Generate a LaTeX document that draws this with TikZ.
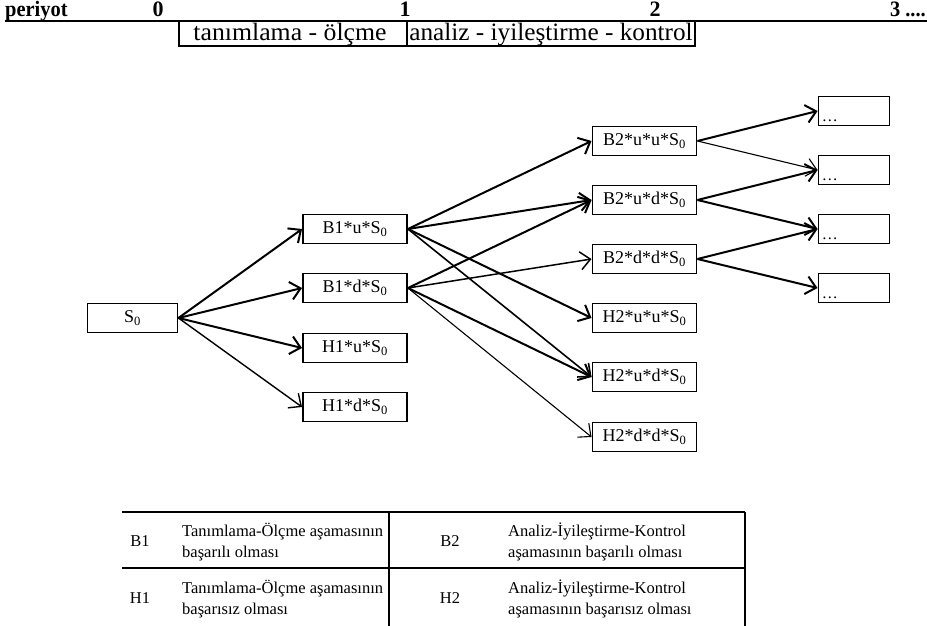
\documentclass[tikz,border=0pt]{standalone}
\usepackage{fontspec}
\setmainfont{Liberation Serif}
\usetikzlibrary{arrows.meta}

\newcommand{\zsub}{\textsubscript{0}}

\begin{document}
\begin{tikzpicture}[x=1pt,y=-1pt,
  state/.style={draw, line width=1.9pt, minimum width=104pt, minimum height=29pt,
    inner sep=0pt, font=\fontsize{18}{19}\selectfont},
  leaf/.style={draw, line width=1.9pt, minimum width=71pt, minimum height=29pt, inner sep=0pt},
  dots/.style={anchor=south west, inner sep=0pt, font=\fontsize{16}{16}\selectfont},
  arr/.style={line width=2pt, -{Straight Barb[length=10pt,width=18pt]}},
  thinarr/.style={arr, line width=1.1pt},
  rule/.style={line width=2.2pt},
  hdr/.style={inner sep=0pt, font=\bfseries\fontsize{22}{22}\selectfont},
  phase/.style={inner sep=0pt, anchor=base, font=\fontsize{25}{25}\selectfont},
  cell/.style={inner sep=0pt, font=\fontsize{16.5}{21}\selectfont},
]
\useasboundingbox (0,0) rectangle (927,626);

% period header
\node[hdr, anchor=base west] (hp) at (5,17) {\scalebox{0.93}[1]{periyot}};
\node[hdr, anchor=base] (h0) at (158,17) {0};
\node[hdr, anchor=base] (h1) at (405,17) {1};
\node[hdr, anchor=base] (h2) at (655,17) {2};
\node[hdr, anchor=base east] (h3) at (926,17) {\scalebox{0.93}[1]{3 ....}};
\draw[rule] (5,21) -- (927,21);

% phase boxes
\draw[line width=1.6pt] (179,21) rectangle (407,46);
\draw[line width=1.6pt] (407,21) rectangle (695,46);
\node[phase] (pa) at (290,40.5) {\scalebox{1.03}[1]{tanımlama - ölçme}};
\node[phase] (pb) at (551,40.5) {\scalebox{1.01}[1]{analiz - iyileştirme - kontrol}};

% tree nodes
\node[state, minimum width=90pt] (s0) at (132.5,318) {S\zsub};

\node[state] (b1u) at (355,229) {B1*u*S\zsub};
\node[state] (b1d) at (355,288) {B1*d*S\zsub};
\node[state] (h1u) at (355,348) {H1*u*S\zsub};
\node[state] (h1d) at (355,407) {H1*d*S\zsub};

\node[state] (b2uu) at (644.5,141) {B2*u*u*S\zsub};
\node[state] (b2ud) at (644.5,200) {B2*u*d*S\zsub};
\node[state] (b2dd) at (644.5,259) {B2*d*d*S\zsub};
\node[state] (h2uu) at (644.5,318) {H2*u*u*S\zsub};
\node[state] (h2ud) at (644.5,377) {H2*u*d*S\zsub};
\node[state] (h2dd) at (644.5,437) {H2*d*d*S\zsub};

\node[leaf] (l1) at (854,111) {};
\node[leaf] (l2) at (854,170) {};
\node[leaf] (l3) at (854,229) {};
\node[leaf] (l4) at (854,288) {};
\foreach \n in {l1,l2,l3,l4}
  \node[dots] at ([xshift=4pt,yshift=5pt]\n.south west) {\dots};

% connectors
\draw[arr] (s0.east) -- (b1u.west);
\draw[arr] (s0.east) -- (b1d.west);
\draw[arr] (s0.east) -- (h1u.west);
\draw[thinarr, line width=1.4pt] (s0.east) -- (h1d.west);

\draw[arr] (b1u.east) -- (b2uu.west);
\draw[arr] (b1u.east) -- (b2ud.west);
\draw[arr] (b1u.east) -- (h2uu.west);
\draw[thinarr, line width=1.6pt] (b1u.east) -- (h2ud.west);

\draw[arr] (b1d.east) -- (b2ud.west);
\draw[thinarr, line width=1.5pt] (b1d.east) -- (b2dd.west);
\draw[arr] (b1d.east) -- (h2ud.west);
\draw[thinarr] (b1d.east) -- (h2dd.west);

\draw[arr] (b2uu.east) -- (l1.west);
\draw[thinarr] (b2uu.east) -- (l2.west);
\draw[arr] (b2ud.east) -- (l2.west);
\draw[arr] (b2ud.east) -- (l3.west);
\draw[arr] (b2dd.east) -- (l3.west);
\draw[arr] (b2dd.east) -- (l4.west);

% legend table
\draw[rule] (122,512) -- (745,512);
\draw[rule] (122,568) -- (745,568);
\draw[line width=1.6pt] (389,512) -- (389,626);
\draw[line width=1.6pt] (745,512) -- (745,626);

\node[cell] (kb1) at (140,541) {B1};
\node[cell, anchor=west, align=left] (tb1) at (182,542) {Tanımlama-Ölçme aşamasının\\başarılı olması};
\node[cell] (kh1) at (140,598) {H1};
\node[cell, anchor=west, align=left] (th1) at (182,599) {Tanımlama-Ölçme aşamasının\\başarısız olması};
\node[cell] (kb2) at (450,541) {B2};
\node[cell, anchor=west, align=left] (tb2) at (508,542) {Analiz-İyileştirme-Kontrol\\aşamasının başarılı olması};
\node[cell] (kh2) at (450,598) {H2};
\node[cell, anchor=west, align=left] (th2) at (508,599) {Analiz-İyileştirme-Kontrol\\aşamasının başarısız olması};
\end{tikzpicture}
\end{document}
